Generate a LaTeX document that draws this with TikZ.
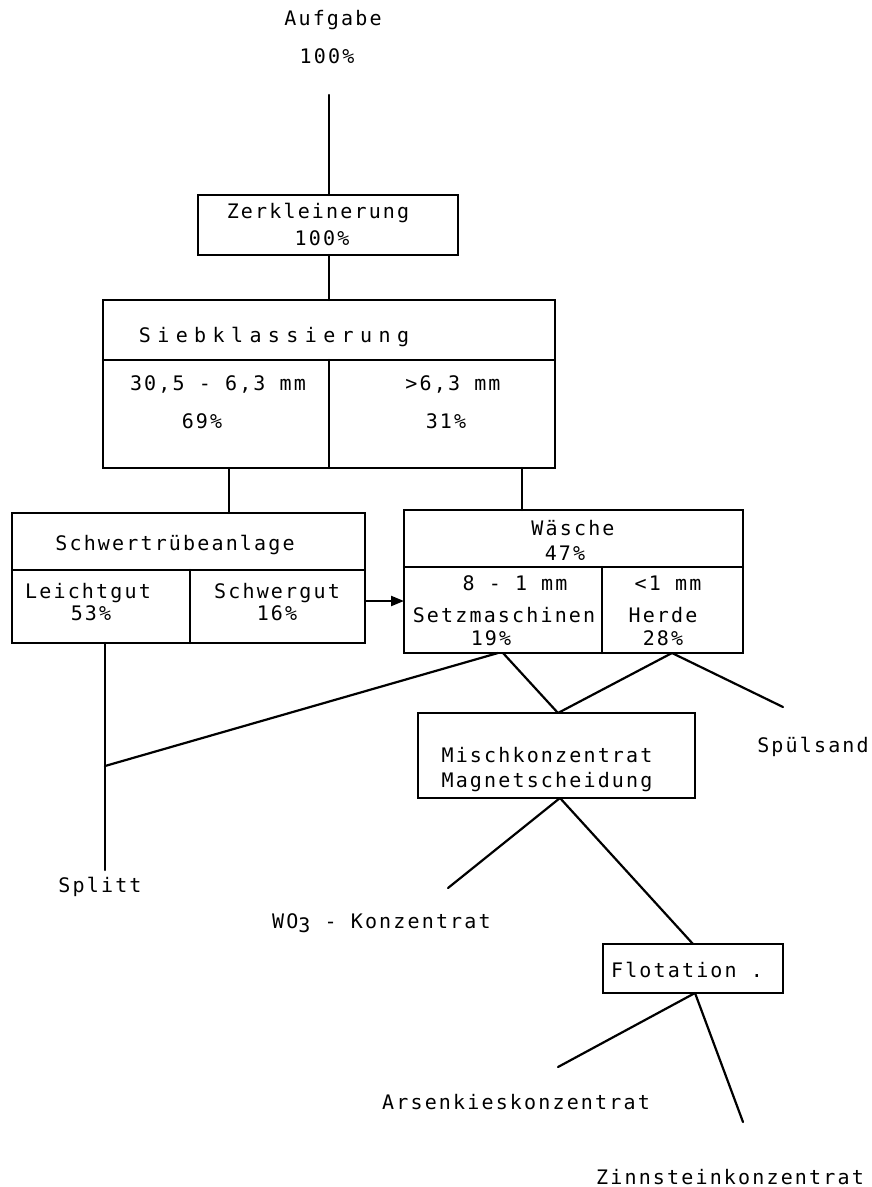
\documentclass[tikz,border=0pt]{standalone}
\usepackage{fontspec}
\newfontfamily\tw{DejaVu Sans Mono}[LetterSpace=10.8]
\newfontfamily\twwide{DejaVu Sans Mono}[LetterSpace=32]
\usetikzlibrary{arrows.meta}
\begin{document}
\begin{tikzpicture}[x=1pt,y=-1pt,line width=2.2pt,line cap=round,
  box/.style={draw,rectangle,inner sep=0pt,outer sep=0pt},
  lbl/.style={anchor=base,inner sep=0pt,font=\tw\fontsize{20}{24}\selectfont},
  lblw/.style={anchor=base,inner sep=0pt,font=\twwide\fontsize{20}{24}\selectfont},
  flow/.style={-{Triangle[length=13pt,width=10pt]}}]
\useasboundingbox (0,0) rectangle (872,1187);

% feed
\node[lbl] (aufg) at (333,25) {Aufgabe};
\node[lbl] (aufgp) at (327,63) {100\%};
\coordinate (feed) at (329,95);

% crushing
\node[box,minimum width=260pt,minimum height=60pt] (zk) at (328,225) {};
\node[lbl] (zkt) at (318,218) {Zerkleinerung};
\node[lbl] (zkp) at (322,245) {100\%};

% screening
\node[box,minimum width=452pt,minimum height=168pt] (sieb) at (329,384) {};
\draw (103,360) -- (555,360);
\draw (329,360) -- (329,468);
\node[lblw] (siebt) at (274,342) {Siebklassierung};
\node[lbl] (s1a) at (218,390) {30,5 - 6,3 mm};
\node[lbl] (s1b) at (202,428) {69\%};
\node[lbl] (s2a) at (453,390) {>6,3 mm};
\node[lbl] (s2b) at (446,428) {31\%};

% heavy media plant
\node[box,minimum width=353pt,minimum height=130pt] (hm) at (188.5,578) {};
\draw (12,570) -- (365,570);
\draw (190,570) -- (190,643);
\node[lbl] (hmt) at (175,550) {Schwertrübeanlage};
\node[lbl] (lg) at (88,598) {Leichtgut};
\node[lbl] (lgp) at (91,620) {53\%};
\node[lbl] (sg) at (277,598) {Schwergut};
\node[lbl] (sgp) at (277,620) {16\%};

% washing
\node[box,minimum width=339pt,minimum height=143pt] (wa) at (573.5,581.5) {};
\draw (404,567) -- (743,567);
\draw (602,567) -- (602,653);
\node[lbl] (wat) at (573,535) {Wäsche};
\node[lbl] (wap) at (565,560) {47\%};
\node[lbl] (w1a) at (515,590) {8 - 1 mm};
\node[lbl] (w1b) at (504,622) {Setzmaschinen};
\node[lbl] (w1c) at (491,645) {19\%};
\node[lbl] (w2a) at (668,590) {<1 mm};
\node[lbl] (w2b) at (663,622) {Herde};
\node[lbl] (w2c) at (663,645) {28\%};

% mixed concentrate
\node[box,minimum width=277pt,minimum height=85pt] (mk) at (556.5,755.5) {};
\node[lbl] (mkt) at (547,762) {Mischkonzentrat};
\node[lbl] (mkb) at (547,787) {Magnetscheidung};

% flotation
\node[box,minimum width=180pt,minimum height=49pt] (fl) at (693,968.5) {};
\node[lbl,anchor=base west] (flt) at (610,977) {Flotation .};

% products
\node[lbl] (spuel) at (813,752) {Spülsand};
\node[lbl] (split) at (100,892) {Splitt};
\node[lbl,anchor=base west] (wo) at (271,928) {WO\raisebox{-4pt}{3} - Konzentrat};
\node[lbl] (ars) at (516,1109) {Arsenkieskonzentrat};
\node[lbl] (zinn) at (730,1184) {Zinnsteinkonzentrat};

% connection points
\coordinate (sL) at (229,468);
\coordinate (sR) at (522,468);
\coordinate (lgb) at (105,643);
\coordinate (join) at (105,766);
\coordinate (splitend) at (105,870);
\coordinate (setzb) at (498,653);
\coordinate (setzb2) at (503,653);
\coordinate (herdb) at (672,653);
\coordinate (mktop) at (558,713);
\coordinate (spend) at (783,707);
\coordinate (mkb1) at (560,798);
\coordinate (woend) at (448,888);
\coordinate (fltop) at (693,944);
\coordinate (flb) at (695,993);
\coordinate (arsend) at (558,1067);
\coordinate (zinnend) at (743,1122);

% connectors
\draw (feed) -- (feed |- zk.north);
\draw (zk.south -| feed) -- (sieb.north -| feed);
\draw (sL) -- (sL |- hm.north);
\draw (sR) -- (sR |- wa.north);
\draw[flow] (hm.east |- 0,601) -- (wa.west |- 0,601);
\draw (lgb) -- (join) -- (splitend);
\draw (setzb) -- (join);
\draw (setzb2) -- (mktop);
\draw (herdb) -- (mktop);
\draw (herdb) -- (spend);
\draw (mkb1) -- (woend);
\draw (mkb1) -- (fltop);
\draw (flb) -- (arsend);
\draw (flb) -- (zinnend);
\end{tikzpicture}
\end{document}
